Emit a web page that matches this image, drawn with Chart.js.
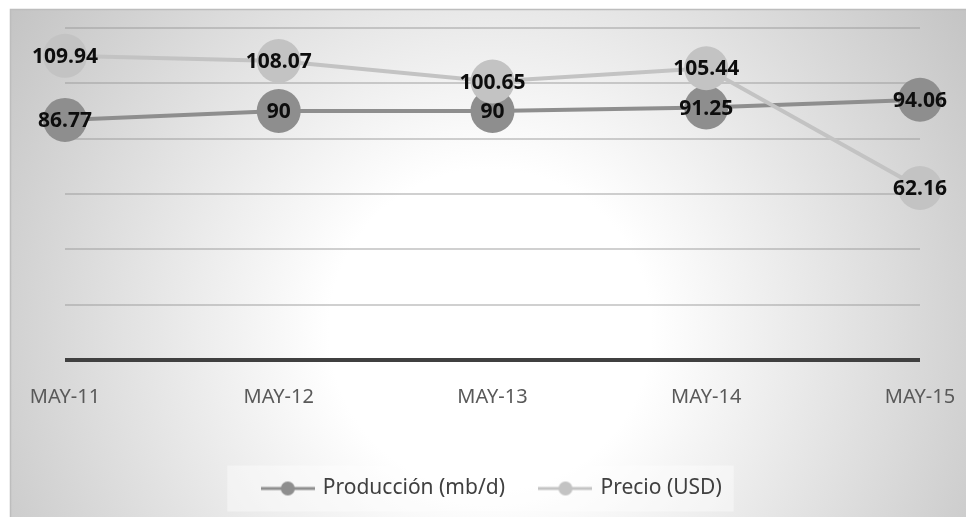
<!DOCTYPE html>
<html>
<head>
<meta charset="utf-8">
<script src="https://cdn.jsdelivr.net/npm/chart.js@4"></script>
<style>
  html, body { margin: 0; padding: 0; background: #fff; }
  #wrap { width: 966px; height: 517px; }
</style>
</head>
<body>
<div id="wrap"><canvas id="chart" width="966" height="517"></canvas></div>
<script>
const months = ['MAY-11', 'MAY-12', 'MAY-13', 'MAY-14', 'MAY-15'];
const produccion = [86.77, 90, 90, 91.25, 94.06];
const precio = [109.94, 108.07, 100.65, 105.44, 62.16];
const yMin = 0;
const yMax = 120;
const yStep = 20;

const PROD_COLOR = '#8e8e8e';
const PRICE_COLOR = '#c3c3c3';
const FONT = '"Noto Sans", "Open Sans", sans-serif';

// small line-with-dot swatch for the legend
function makeIcon(color) {
  const c = document.createElement('canvas');
  c.width = 54;
  c.height = 16;
  const g = c.getContext('2d');
  g.strokeStyle = color;
  g.lineWidth = 3;
  g.beginPath();
  g.moveTo(0, 8);
  g.lineTo(54, 8);
  g.stroke();
  g.fillStyle = color;
  g.beginPath();
  g.arc(27, 8, 7, 0, Math.PI * 2);
  g.fill();
  return c;
}

// radial grey background + legend panel
const backdrop = {
  id: 'backdrop',
  beforeDraw(chart) {
    const ctx = chart.ctx;
    const W = chart.width, H = chart.height;
    ctx.save();
    ctx.fillStyle = '#fff';
    ctx.fillRect(0, 0, W, H);
    const grad = ctx.createRadialGradient(490, 330, 0, 490, 330, 575);
    grad.addColorStop(0, '#ffffff');
    grad.addColorStop(0.28, '#ffffff');
    grad.addColorStop(1, '#c4c4c4');
    ctx.fillStyle = grad;
    ctx.fillRect(10, 9, W - 10, H - 9);
    ctx.strokeStyle = '#bdbdbd';
    ctx.lineWidth = 1.5;
    ctx.beginPath();
    ctx.moveTo(10.5, H);
    ctx.lineTo(10.5, 9.5);
    ctx.lineTo(W, 9.5);
    ctx.stroke();

    const boxes = chart.legend.legendHitBoxes;
    if (boxes && boxes.length) {
      const first = boxes[0], last = boxes[boxes.length - 1];
      const cy = first.top + first.height / 2;
      const x0 = first.left - 36;
      const x1 = last.left + last.width + 12;
      ctx.fillStyle = 'rgba(255,255,255,0.4)';
      ctx.fillRect(x0, cy - 23, x1 - x0, 46);
    }
    ctx.restore();
  }
};

// value labels centred on each marker
const valueLabels = {
  id: 'valueLabels',
  afterDatasetsDraw(chart) {
    const ctx = chart.ctx;
    ctx.save();
    ctx.font = 'bold 21px ' + FONT;
    ctx.fillStyle = '#0d0d0d';
    ctx.textAlign = 'center';
    ctx.textBaseline = 'middle';
    chart.data.datasets.forEach((ds, di) => {
      const meta = chart.getDatasetMeta(di);
      meta.data.forEach((pt, i) => {
        ctx.fillText(String(ds.data[i]), pt.x, pt.y + 1);
      });
    });
    ctx.restore();
  }
};

const legendItems = [
  { text: 'Producción (mb/d)', pointStyle: makeIcon(PROD_COLOR), datasetIndex: 0 },
  { text: 'Precio (USD)', pointStyle: makeIcon(PRICE_COLOR), datasetIndex: 1 }
];

new Chart(document.getElementById('chart'), {
  type: 'line',
  data: {
    labels: months,
    datasets: [
      {
        label: 'Producción (mb/d)',
        data: produccion,
        borderColor: PROD_COLOR,
        backgroundColor: PROD_COLOR,
        borderWidth: 4,
        pointRadius: 22,
        pointBorderWidth: 0,
        pointBackgroundColor: PROD_COLOR,
        tension: 0,
        order: 1
      },
      {
        label: 'Precio (USD)',
        data: precio,
        borderColor: PRICE_COLOR,
        backgroundColor: PRICE_COLOR,
        borderWidth: 4,
        pointRadius: 22,
        pointBorderWidth: 0,
        pointBackgroundColor: PRICE_COLOR,
        tension: 0,
        order: 0
      }
    ]
  },
  options: {
    responsive: false,
    animation: false,
    layout: { padding: { left: 65, right: 46, top: 28, bottom: 8 } },
    scales: {
      x: {
        grid: { display: false, drawTicks: false },
        border: { display: false },
        ticks: {
          padding: 25,
          color: '#595959',
          font: { family: FONT, size: 20 },
          maxRotation: 0,
          autoSkip: false
        },
        afterFit(scale) {
          scale.height = 82;
          scale.paddingLeft = 0;
          scale.paddingRight = 0;
        }
      },
      y: {
        min: yMin,
        max: yMax,
        ticks: { display: false, stepSize: yStep },
        border: { display: false },
        grid: {
          drawTicks: false,
          color: (c) => c.tick && c.tick.value === 0 ? '#404040' : 'rgba(150,150,150,0.45)',
          lineWidth: (c) => c.tick && c.tick.value === 0 ? 4 : 2
        }
      }
    },
    plugins: {
      tooltip: { enabled: false },
      legend: {
        position: 'bottom',
        labels: {
          usePointStyle: true,
          pointStyleWidth: 49,
          padding: 36,
          color: '#404040',
          font: { family: FONT, size: 21 },
          generateLabels: () => legendItems.map(it => ({
            text: it.text,
            pointStyle: it.pointStyle,
            fontColor: '#404040',
            datasetIndex: it.datasetIndex,
            hidden: false,
            lineWidth: 0
          }))
        }
      }
    }
  },
  plugins: [backdrop, valueLabels]
});
</script>
</body>
</html>
